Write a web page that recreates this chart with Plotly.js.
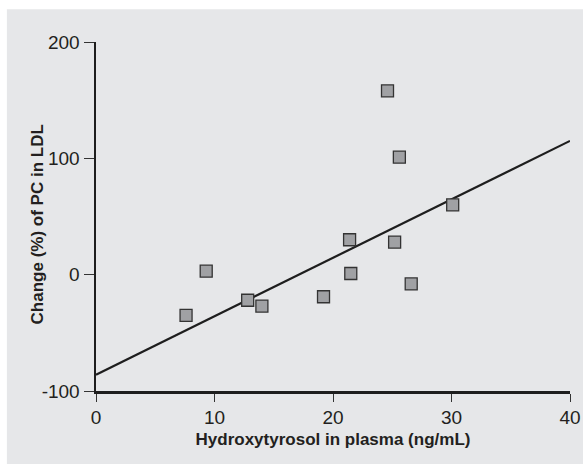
<!DOCTYPE html>
<html>
<head>
<meta charset="utf-8">
<script src="https://cdn.plot.ly/plotly-3.0.1.min.js"></script>
<style>html,body{margin:0;padding:0;background:#fff;}#chart{width:583px;height:464px;}</style>
</head>
<body>
<div id="chart"></div>
<script>
// Data
var plasmaHT = [7.6, 9.3, 12.8, 14.0, 19.2, 21.4, 21.5, 24.6, 25.2, 25.6, 26.6, 30.1];
var changePC = [-35, 3, -22, -27, -19, 30, 1, 158, 28, 101, -8, 60];
var fitX = [0, 40];
var fitY = [-86, 115];
var xTicks = [0, 10, 20, 30, 40];
var yTicks = [-100, 0, 100, 200];
var xTitle = 'Hydroxytyrosol in plasma (ng/mL)';
var yTitle = 'Change (%) of PC in LDL';

var FONT = '"Liberation Sans", Arial, sans-serif';

var traces = [
  {
    x: fitX, y: fitY, type: 'scatter', mode: 'lines',
    line: {color: '#1e1e1e', width: 2.2}, hoverinfo: 'skip', showlegend: false
  },
  {
    x: plasmaHT, y: changePC, type: 'scatter', mode: 'markers',
    marker: {symbol: 'square', size: 12, color: '#a0a1a4', line: {color: '#333333', width: 1.3}},
    showlegend: false
  }
];

var layout = {
  width: 583, height: 464,
  margin: {l: 96, r: 13, t: 42, b: 73, pad: 0},
  paper_bgcolor: '#ffffff',
  plot_bgcolor: 'rgba(0,0,0,0)',
  font: {family: FONT, color: '#231f20', size: 18},
  showlegend: false,
  shapes: [{
    type: 'rect', xref: 'paper', yref: 'paper', layer: 'below',
    x0: -0.188, x1: 1.03, y0: -0.215, y1: 1.094,
    fillcolor: '#e6e7e9', line: {width: 0}
  }],
  annotations: [{
    text: '<b>' + yTitle + '</b>', xref: 'paper', yref: 'paper',
    x: -0.124, y: 0.478, xanchor: 'center', yanchor: 'middle',
    textangle: -90, showarrow: false,
    font: {family: FONT, size: 17, color: '#231f20'}
  }],
  xaxis: {
    range: [0, 40], tickvals: xTicks, ticktext: xTicks.map(String),
    showgrid: false, zeroline: false,
    showline: true, linecolor: '#1e1e1e', linewidth: 2.5,
    ticks: 'outside', ticklen: 8, tickwidth: 1, tickcolor: '#333',
    tickfont: {family: FONT, size: 19, color: '#231f20'},
    title: {text: '<b>' + xTitle + '</b>', font: {family: FONT, size: 17, color: '#231f20'}, standoff: 6}
  },
  yaxis: {
    range: [-100, 200], tickvals: yTicks, ticktext: yTicks.map(String),
    showgrid: false, zeroline: false,
    showline: true, linecolor: '#1e1e1e', linewidth: 2.5,
    ticks: 'outside', ticklen: 10, tickwidth: 1, tickcolor: '#333',
    tickfont: {family: FONT, size: 19, color: '#231f20'}
  }
};

Plotly.newPlot('chart', traces, layout, {displayModeBar: false, staticPlot: true});
</script>
</body>
</html>
